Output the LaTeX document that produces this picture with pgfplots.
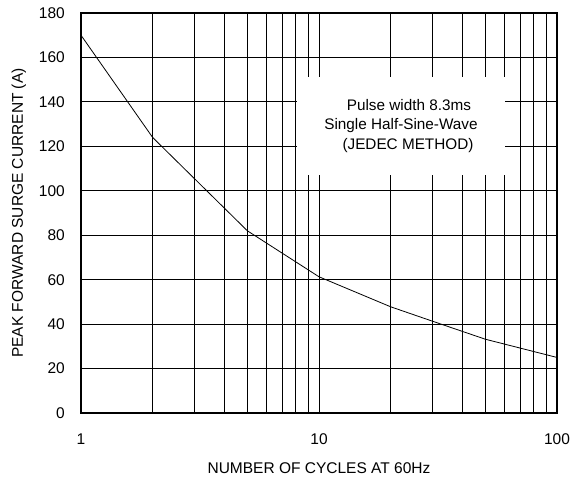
\documentclass[border=0pt]{standalone}
\usepackage{fontspec}
\setmainfont{Liberation Sans}
\usepackage{pgfplots}
\pgfplotsset{compat=1.18}
\begin{document}
\fontsize{15.5}{18.6}\selectfont
\begin{tikzpicture}
\path[use as bounding box] (-81pt,-67pt) rectangle (499pt,413pt);
\begin{axis}[
  at={(0pt,0pt)}, anchor=south west,
  scale only axis, width=476pt, height=400pt,
  xmode=log, xmin=1, xmax=100, ymin=0, ymax=180,
  xtick={1,10,100}, xticklabels={1,10,100},
  minor xtick={2,3,4,5,6,7,8,9,20,30,40,50,60,70,80,90},
  ytick={0,20,...,180},
  /pgf/number format/assume math mode=true,
  major tick length=0pt, minor tick length=0pt,
  xmajorgrids, xminorgrids, ymajorgrids,
  grid style={black, line width=1pt},
  major grid style={black, line width=1pt},
  minor grid style={black, line width=1pt},
  axis line style={black, line width=1.6pt},
  xticklabel style={anchor=center, yshift=-26pt},
  yticklabel style={anchor=east, inner sep=0pt, xshift=-16pt},
  xlabel={NUMBER OF CYCLES AT 60Hz},
  ylabel={PEAK FORWARD SURGE CURRENT (A)},
  xlabel style={at={(axis description cs:0.5,-0.1375)}, anchor=center},
  ylabel style={at={(axis description cs:-0.1303,0.5)}, anchor=center},
]
\addplot[black, line width=0.8pt, mark=none] coordinates {
  (1,170) (2,124) (5,82) (10,61.3) (20,47.8) (30,41.3) (50,33.2) (100,25)
};
\node[fill=white, minimum width=208pt, minimum height=98pt, inner sep=0pt,
      align=center, font=\fontsize{15.3}{19.5}\selectfont]
  at (axis cs:22.1,129.2)
  {\hspace*{16pt}Pulse width 8.3ms\\Single Half-Sine-Wave\\\hspace*{14pt}(JEDEC METHOD)};
\end{axis}
\end{tikzpicture}
\end{document}
